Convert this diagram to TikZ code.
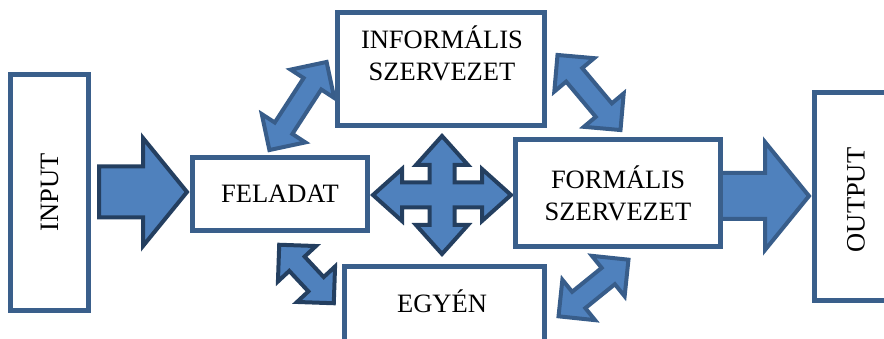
\documentclass[tikz,border=0pt]{standalone}
\usepackage{fontspec}
\setmainfont{Liberation Serif}

\definecolor{boxline}{HTML}{3A5F8B}
\definecolor{arrowfill}{HTML}{4F81BD}
\definecolor{darkedge}{HTML}{243F60}
\definecolor{lightedge}{HTML}{385D8A}

\tikzset{
	box/.style={draw=boxline, line width=5, fill=white, inner sep=0, font=\fontsize{26.5}{32}\selectfont, align=center},
	txt/.style={font=\fontsize{26.5}{32}\selectfont, align=center, inner sep=0},
	darkarrow/.style={draw=darkedge, fill=arrowfill, line width=4},
	lightarrow/.style={draw=lightedge, fill=arrowfill, line width=4},
	pics/twohead/.style={code={
		\pgfmathsetmacro\half{#1/2}
		\path[pic actions] (-\half,0)--(-\half+26,-26)--(-\half+26,-10.5)--(\half-26,-10.5)--(\half-26,-26)--(\half,0)
			--(\half-26,26)--(\half-26,10.5)--(-\half+26,10.5)--(-\half+26,26)--cycle;}},
	pics/onehead/.style args={#1/#2}{code={
		\path[pic actions] (0,-#2)--(#1-44,-#2)--(#1-44,-54)--(#1,0)--(#1-44,54)--(#1-44,#2)--(0,#2)--cycle;}},
	pics/fourway/.style={code={
		\path[pic actions] (69,0)--(40,26)--(40,12.5)--(12.5,12.5)--(12.5,30)--(26,30)--(0,59)--(-26,30)--(-12.5,30)
			--(-12.5,12.5)--(-40,12.5)--(-40,26)--(-69,0)--(-40,-26)--(-40,-12.5)--(-12.5,-12.5)--(-12.5,-30)
			--(-26,-30)--(0,-59)--(26,-30)--(12.5,-30)--(12.5,-12.5)--(40,-12.5)--(40,-26)--cycle;}},
}

\begin{document}
\begin{tikzpicture}[x=1pt, y=-1pt]
	\useasboundingbox (0,0) rectangle (884,339);
	\clip (0,0) rectangle (884,339);

	% block arrows
	\pic[darkarrow] at (99,192) {onehead=88/25.5};
	\pic[lightarrow] at (720,196) {onehead=89/23};
	\pic[darkarrow] at (442,195) {fourway};
	\pic[lightarrow, rotate=57] at (298,106) {twohead=105};
	\pic[lightarrow, rotate=-50] at (589,92.5) {twohead=98};
	\pic[darkarrow, rotate=-47] at (306.5,274) {twohead=80};
	\pic[lightarrow, rotate=39] at (593.5,288) {twohead=90};

	% boxes
	\node[box, rotate=90, minimum width=236, minimum height=78] (input) at (49.5,192.5) {INPUT};
	\node[box, minimum width=175, minimum height=73] (feladat) at (280,194) {FELADAT};
	\node[box, minimum width=207, minimum height=113] (inform) at (441,69) {};
	\node[txt] (informtext) at (442,53) {INFORMÁLIS\\SZERVEZET};
	\node[box, minimum width=205, minimum height=107] (formal) at (618,193) {FORMÁLIS\\SZERVEZET};
	\node[box, minimum width=200, minimum height=94] (egyen) at (444.5,313.5) {};
	\node[txt] (egyentext) at (442,301) {EGYÉN};
	\node[box, minimum width=136, minimum height=208] (output) at (882.5,196.5) {};
	\node[txt, rotate=90] (outputtext) at (856,200) {OUTPUT};
\end{tikzpicture}
\end{document}
